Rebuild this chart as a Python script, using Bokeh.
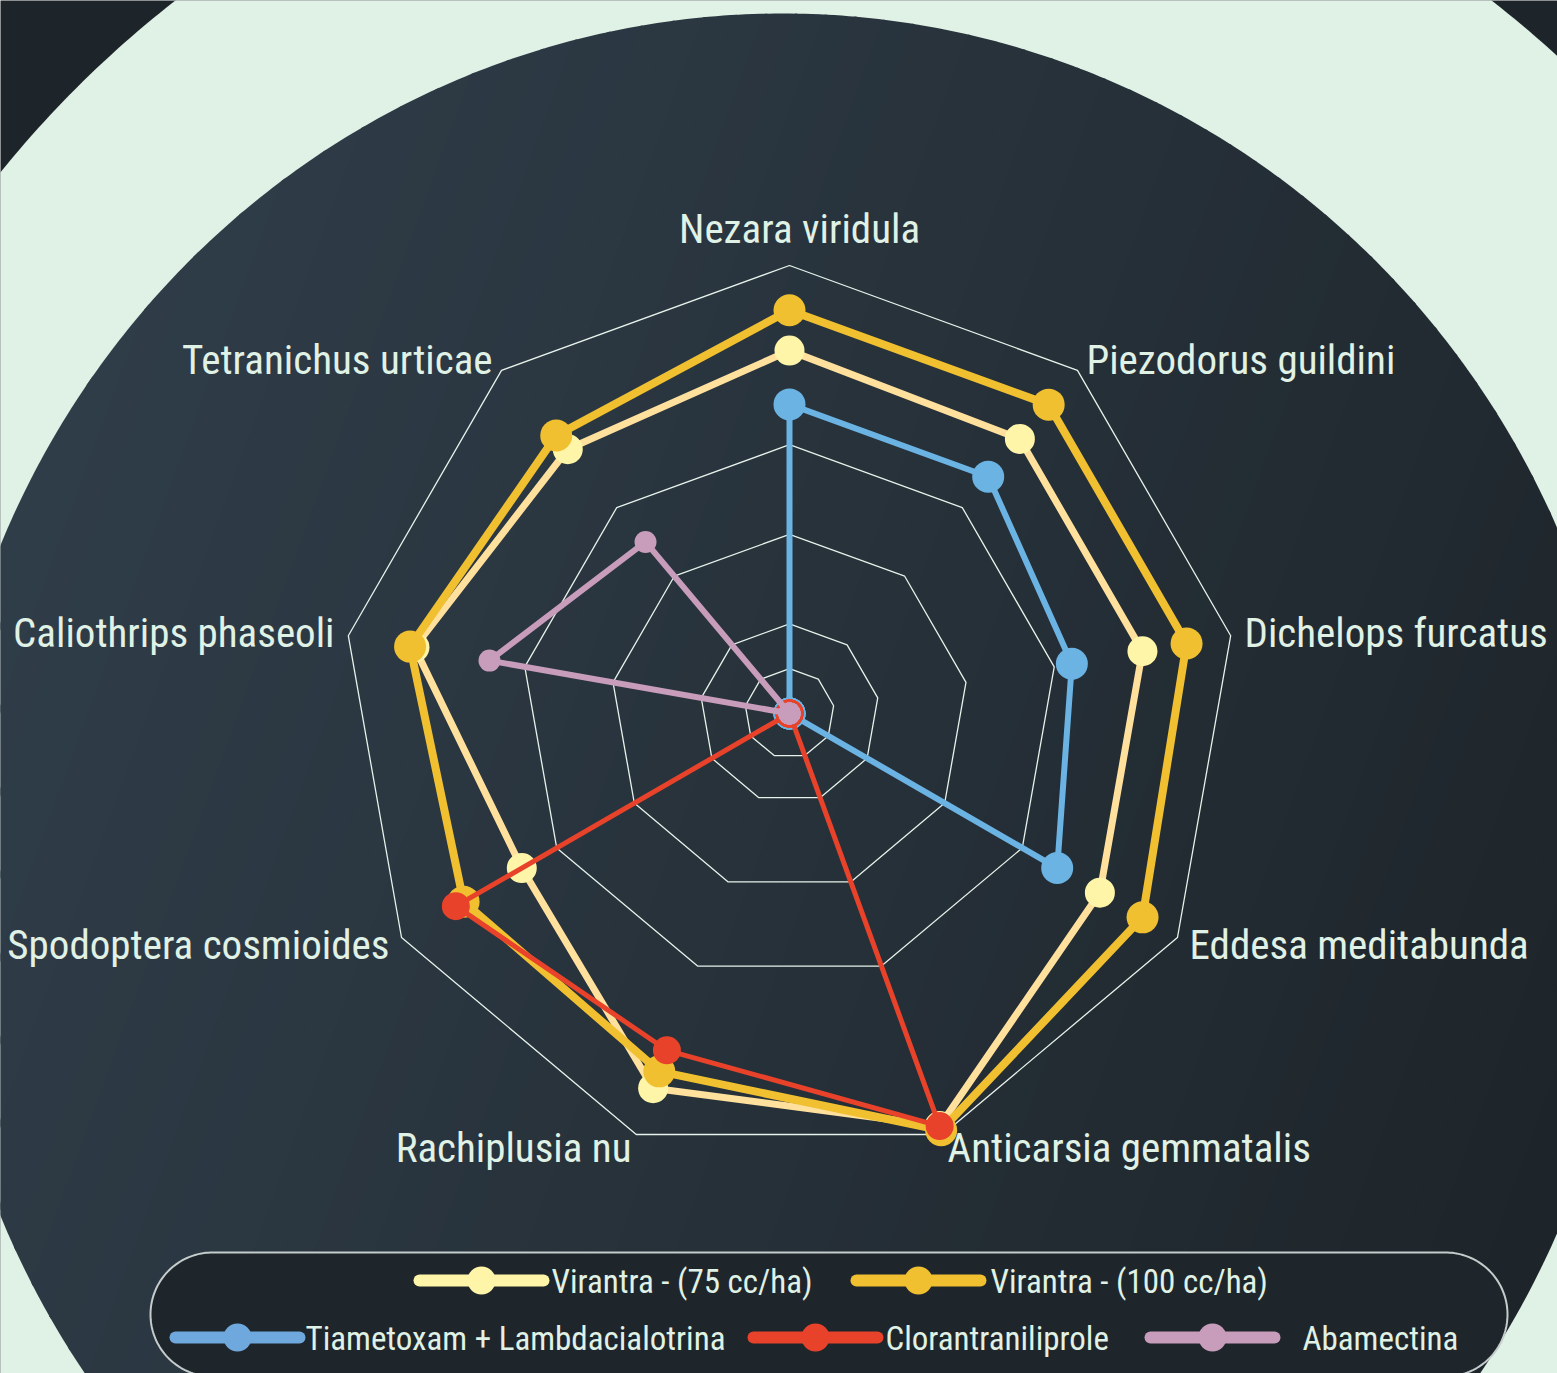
import numpy as np
from bokeh.plotting import figure
from bokeh.models import Range1d
from bokeh.embed import file_html
from bokeh.resources import INLINE
from bokeh.core.properties import value

# ---------------- data ----------------
categories = ["Nezara viridula", "Piezodorus guildini", "Dichelops furcatus",
              "Eddesa meditabunda", "Anticarsia gemmatalis", "Rachiplusia nu",
              "Spodoptera cosmioides", "Caliothrips phaseoli", "Tetranichus urticae"]
series_names = ["Virantra - (75 cc/ha)", "Virantra - (100 cc/ha)",
                "Tiametoxam + Lambdacialotrina", "Clorantraniliprole", "Abamectina"]
virantra_75 = [81, 80, 80, 80, 98, 89, 69, 85, 77]
virantra_100 = [90, 90, 90, 91, 99, 85, 84, 86, 81]
tiametoxam = [69, 69, 64, 69, 0, 0, 0, 0, 0]
clorantraniliprole = [0, 0, 0, 0, 98, 80, 86, 0, 0]
abamectina = [0, 0, 0, 0, 0, 0, 0, 68, 50]
ring_levels = [10, 20, 40, 60, 100]

series_values = [virantra_75, virantra_100, tiametoxam, clorantraniliprole, abamectina]
line_colors = ["#ffe09c", "#f0c030", "#6bb3e3", "#e8432a", "#c89cbb"]
fill_colors = ["#fff5a8", "#f0c030", "#6bb3e3", "#e8432a", "#c89cbb"]
legend_colors = ["#fff5a8", "#f0c030", "#6fa8dc", "#e8432a", "#c89cbb"]
line_widths = [7, 8, 6, 5, 6]
marker_sizes = [30, 32, 32, 28, 22]

# ---------------- geometry ----------------
W, H = 1557, 1373
PX = 4.48                 # pixels per value unit
CXP, CYP = 789, 713       # radar centre in page pixels
TXT = "#e0f1e6"
FONT = value("Roboto Condensed")


def P(px, py):
    return (px - CXP) / PX, (CYP - py) / PX


p = figure(width=W, height=H, output_backend="svg", toolbar_location=None,
           x_range=Range1d(-CXP / PX, (W - CXP) / PX),
           y_range=Range1d(-(H - CYP) / PX, CYP / PX),
           x_axis_type=None, y_axis_type=None, min_border=0,
           outline_line_color=None,
           background_fill_color="#1e252a", border_fill_color="#1e252a")
p.grid.visible = False

# light ring (big circle)
t = np.linspace(0, 2 * np.pi, 721)
ocx, ocy = P(833, 845)
orad = 1071 / PX
p.patch(ocx + orad * np.cos(t), ocy + orad * np.sin(t), fill_color="#e0f1e6", line_color=None)

# inner dark ellipse with linear gradient (bands)
ecx, ecy = P(782, 880)
ea, eb = 848 / PX, 867 / PX
ex = ecx + ea * np.cos(t)
ey = ecy + eb * np.sin(t)


def clip(xs, ys, nx, ny, c):
    # keep nx*x + ny*y <= c
    outx, outy = [], []
    n = len(xs)
    for i in range(n):
        x1, y1 = xs[i], ys[i]
        x2, y2 = xs[(i + 1) % n], ys[(i + 1) % n]
        d1 = nx * x1 + ny * y1 - c
        d2 = nx * x2 + ny * y2 - c
        if d1 <= 0:
            outx.append(x1); outy.append(y1)
        if (d1 <= 0) != (d2 <= 0):
            f = d1 / (d1 - d2)
            outx.append(x1 + f * (x2 - x1)); outy.append(y1 + f * (y2 - y1))
    return outx, outy


ang = np.deg2rad(-20)
dx, dy = np.cos(ang), np.sin(ang)
proj = ex * dx + ey * dy
tmin, tmax = proj.min(), proj.max()
c0 = np.array([48, 62, 74])
c1 = np.array([30, 37, 42])
NB = 60
edges = np.linspace(tmin, tmax, NB + 1)
bxs, bys, bcols = [], [], []
for i in range(NB):
    a0, a1 = edges[i] - 0.3, edges[i + 1] + 0.3
    xs1, ys1 = clip(list(ex), list(ey), dx, dy, a1)
    xs2, ys2 = clip(xs1, ys1, -dx, -dy, -a0)
    if len(xs2) < 3:
        continue
    f = (i + 0.5) / NB
    col = (c0 + (c1 - c0) * f).astype(int)
    bxs.append(xs2); bys.append(ys2)
    bcols.append("#%02x%02x%02x" % tuple(col))
p.patches(bxs, bys, fill_color=bcols, line_color=None)

# radar grid
n = len(categories)
theta = np.deg2rad(90 - 40 * np.arange(n))
for lvl in ring_levels:
    gx = list(lvl * np.cos(theta)) + [lvl * np.cos(theta[0])]
    gy = list(lvl * np.sin(theta)) + [lvl * np.sin(theta[0])]
    p.line(gx, gy, line_color="#e6f2ea", line_width=1.3)

# series
for vals, lc, fc, lw, ms in zip(series_values, line_colors, fill_colors, line_widths, marker_sizes):
    v = np.array(vals, dtype=float)
    sx = v * np.cos(theta)
    sy = v * np.sin(theta)
    p.line(list(sx) + [sx[0]], list(sy) + [sy[0]], line_color=lc, line_width=lw,
           line_join="round")
    p.scatter(sx, sy, marker="circle", size=ms, fill_color=fc, line_color=None)

# category labels
for k, name in enumerate(categories):
    c, s = np.cos(theta[k]), np.sin(theta[k])
    rl = (485 if abs(c) < 0.1 and s > 0 else 462) / PX
    align = "left" if c > 0.1 else ("right" if c < -0.1 else "center")
    xo = 10 / PX if align == "center" else 0
    p.text([rl * c + xo], [rl * s], text=[name], text_align=align, text_baseline="middle",
           text_font=FONT, text_font_size="41px", text_color=TXT)

# legend box (stadium)
lr = 62 / PX
lcl = P(212, 1314)
lcr = P(1445, 1314)
aa = np.linspace(np.pi / 2, 3 * np.pi / 2, 90)
ab = np.linspace(-np.pi / 2, np.pi / 2, 90)
lbx = list(lcl[0] + lr * np.cos(aa)) + list(lcr[0] + lr * np.cos(ab))
lby = list(lcl[1] + lr * np.sin(aa)) + list(lcr[1] + lr * np.sin(ab))
p.patch(lbx, lby, fill_color="#1f262b", line_color="#c5cccc", line_width=2)

legend_pos = [(481, 551, 1280), (918, 990, 1280), (237, 305, 1337), (815, 885, 1337),
              (1212, 1302, 1337)]
for (sxp, txp, yp), col, name in zip(legend_pos, legend_colors, series_names):
    x0, y0 = P(sxp - 62, yp)
    x1, _ = P(sxp + 62, yp)
    xm, _ = P(sxp, yp)
    p.line([x0, x1], [y0, y0], line_color=col, line_width=12, line_cap="round")
    p.scatter([xm], [y0], marker="circle", size=28, fill_color=col, line_color=None)
    tx, ty = P(txp, yp + 1)
    p.text([tx], [ty], text=[name], text_align="left", text_baseline="middle",
           text_font=FONT, text_font_size="33px", text_color=TXT)

open("out.html", "w").write(file_html(p, INLINE))
